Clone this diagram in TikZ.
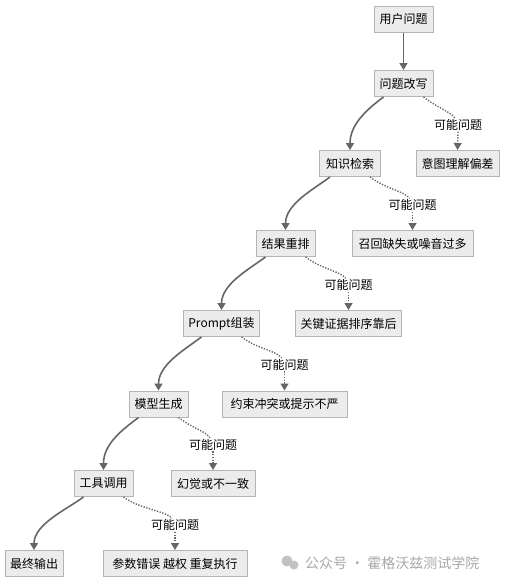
\documentclass[tikz,border=0pt]{standalone}
\usepackage{fontspec}
\setmainfont{Noto Sans CJK SC}
\usetikzlibrary{arrows.meta}
\definecolor{boxfill}{HTML}{ECECEC}
\definecolor{boxline}{HTML}{B4B4B4}
\definecolor{edgecol}{HTML}{666666}
\definecolor{wmcol}{HTML}{A8A8A8}
\begin{document}
\begin{tikzpicture}[x=1pt,y=-1pt,
  box/.style={draw=boxline,fill=boxfill,line width=1pt,minimum height=26pt,inner xsep=5pt,inner ysep=0pt,font=\fontsize{12}{14}\selectfont,text=black},
  lbl/.style={font=\fontsize{12}{14}\selectfont,inner sep=1pt,text=black},
  flow/.style={draw=edgecol,line width=1.6pt,-{Triangle[width=8pt,length=7pt]}},
  risk/.style={draw=edgecol,line width=1.4pt,dash pattern=on 1.3pt off 1.5pt},
  riskarrow/.style={risk,-{Triangle[width=8pt,length=7pt,fill=edgecol]}}]
\useasboundingbox (0,0) rectangle (504,584);
\fill[white] (0,0) rectangle (504,584);
% main chain
\node[box,minimum width=59pt] (n1) at (403.5,19) {用户问题};
\node[box,minimum width=59pt] (n2) at (403.5,83.5) {问题改写};
\node[box,minimum width=61pt] (n3) at (350,163.5) {知识检索};
\node[box,minimum width=59pt] (n4) at (285.5,243.5) {结果重排};
\node[box,minimum width=75pt] (n5) at (221.5,323.5) {Prompt组装};
\node[box,minimum width=59pt] (n6) at (158.5,404) {模型生成};
\node[box,minimum width=59pt] (n7) at (103.5,483.5) {工具调用};
\node[box,minimum width=54pt] (n8) at (34,563.5) {最终输出};
% problems
\node[box,minimum width=83pt] (e1) at (457.5,163.5) {意图理解偏差};
\node[box,minimum width=121pt] (e2) at (412.5,243.5) {召回缺失或噪音过多};
\node[box,minimum width=105pt] (e3) at (348.5,323.5) {关键证据排序靠后};
\node[box,minimum width=125pt] (e4) at (284.5,404) {约束冲突或提示不严};
\node[box,minimum width=84pt] (e5) at (213,483.5) {幻觉或不一致};
\node[box,minimum width=144pt] (e6) at (175,563.5) {参数错误\ 越权\ 重复执行};
% labels
\node[lbl] (l1) at (458,125) {可能问题};
\node[lbl] (l2) at (412.5,205) {可能问题};
\node[lbl] (l3) at (348.5,285) {可能问题};
\node[lbl] (l4) at (284.5,364.5) {可能问题};
\node[lbl] (l5) at (213,444.5) {可能问题};
\node[lbl] (l6) at (175,525) {可能问题};
% solid flow
\draw[flow] (n1.south) -- (n2.north);
\foreach \p/\c in {n2/n3,n3/n4,n4/n5,n5/n6,n6/n7,n7/n8}{
  \draw[flow] ([xshift=-20pt]\p.south) .. controls +(-16,12) and +(0,-26) .. (\c.north);
}
% dotted problem links
\foreach \p/\l/\c in {n2/l1/e1,n3/l2/e2,n4/l3/e3,n5/l4/e4,n6/l5/e5,n7/l6/e6}{
  \draw[risk] ([xshift=20pt]\p.south) .. controls +(16,12) and +(-5,-7) .. ([xshift=-3pt]\l.north);
  \draw[riskarrow] (\l.south) -- (\c.north);
}
% watermark
\node[font=\fontsize{14}{16}\selectfont,text=wmcol,anchor=west,inner sep=0pt] (wm) at (305,563) {公众号 · 霍格沃兹测试学院};
\fill[wmcol!70] (287,561) circle (5.5pt);
\fill[wmcol!70] (294,565) circle (4.5pt);
\end{tikzpicture}
\end{document}
